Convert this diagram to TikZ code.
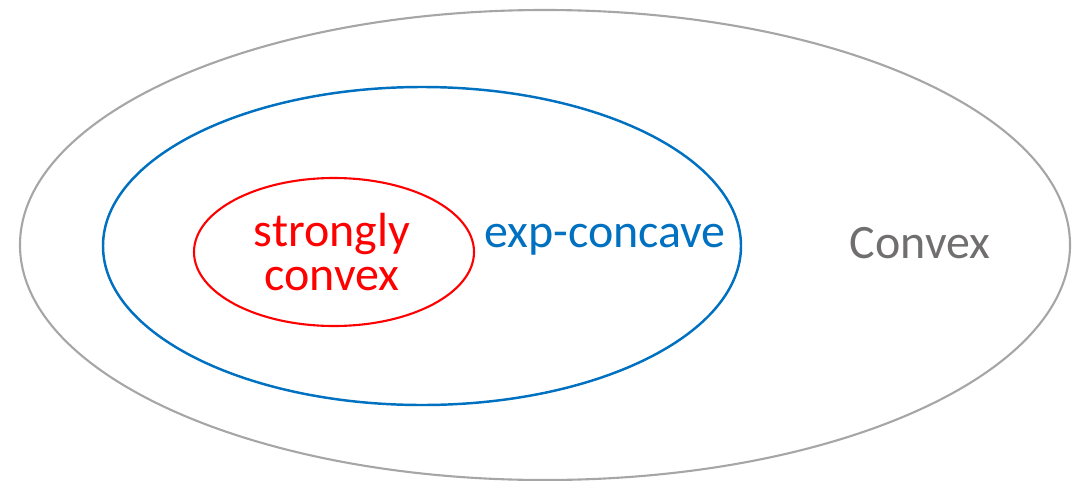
\documentclass[tikz,border=0pt]{standalone}
\usepackage{fontspec}
\setmainfont{Carlito}
\usetikzlibrary{positioning,calc}

\definecolor{convexgray}{RGB}{166,166,166}
\definecolor{convextext}{RGB}{112,110,110}
\definecolor{expblue}{RGB}{0,112,192}
\definecolor{strongred}{RGB}{255,0,0}

\begin{document}
\begin{tikzpicture}[x=0.02cm,y=-0.02cm]
	\tikzset{
		setlabel/.style={font=\fontsize{27.3}{28}\selectfont, align=center, inner sep=0pt},
	}
	%Frame - same proportions as the reference%
	%===========================================================
	\useasboundingbox (0,0) rectangle (1084,480);
	%Centres of the three sets%
	%===========================================================
	\coordinate (convexc) at (545,245); %Centre of convex set
	\coordinate (expc) at (422,246); %Centre of exp-concave set
	\coordinate (strongc) at (334,252); %Centre of strongly convex set
	%Sets%
	%===========================================================
	\draw[color=convexgray, line width=1.2pt] (convexc) ellipse [x radius=525, y radius=235]; %Convex
	\draw[color=expblue, line width=1.4pt] (expc) ellipse [x radius=319, y radius=159]; %exp-concave
	\draw[color=strongred, line width=1.2pt] (strongc) ellipse [x radius=140, y radius=74]; %strongly convex
	%Labels%
	%===========================================================
	\node[setlabel, text=strongred] (stronglab) at (332,252) {strongly\\[-3pt]convex};
	\node[setlabel, text=expblue] (explab) at (605,240) {exp-concave};
	\node[setlabel, text=convextext] (convexlab) at (920,243) {Convex};
\end{tikzpicture}
\end{document}
